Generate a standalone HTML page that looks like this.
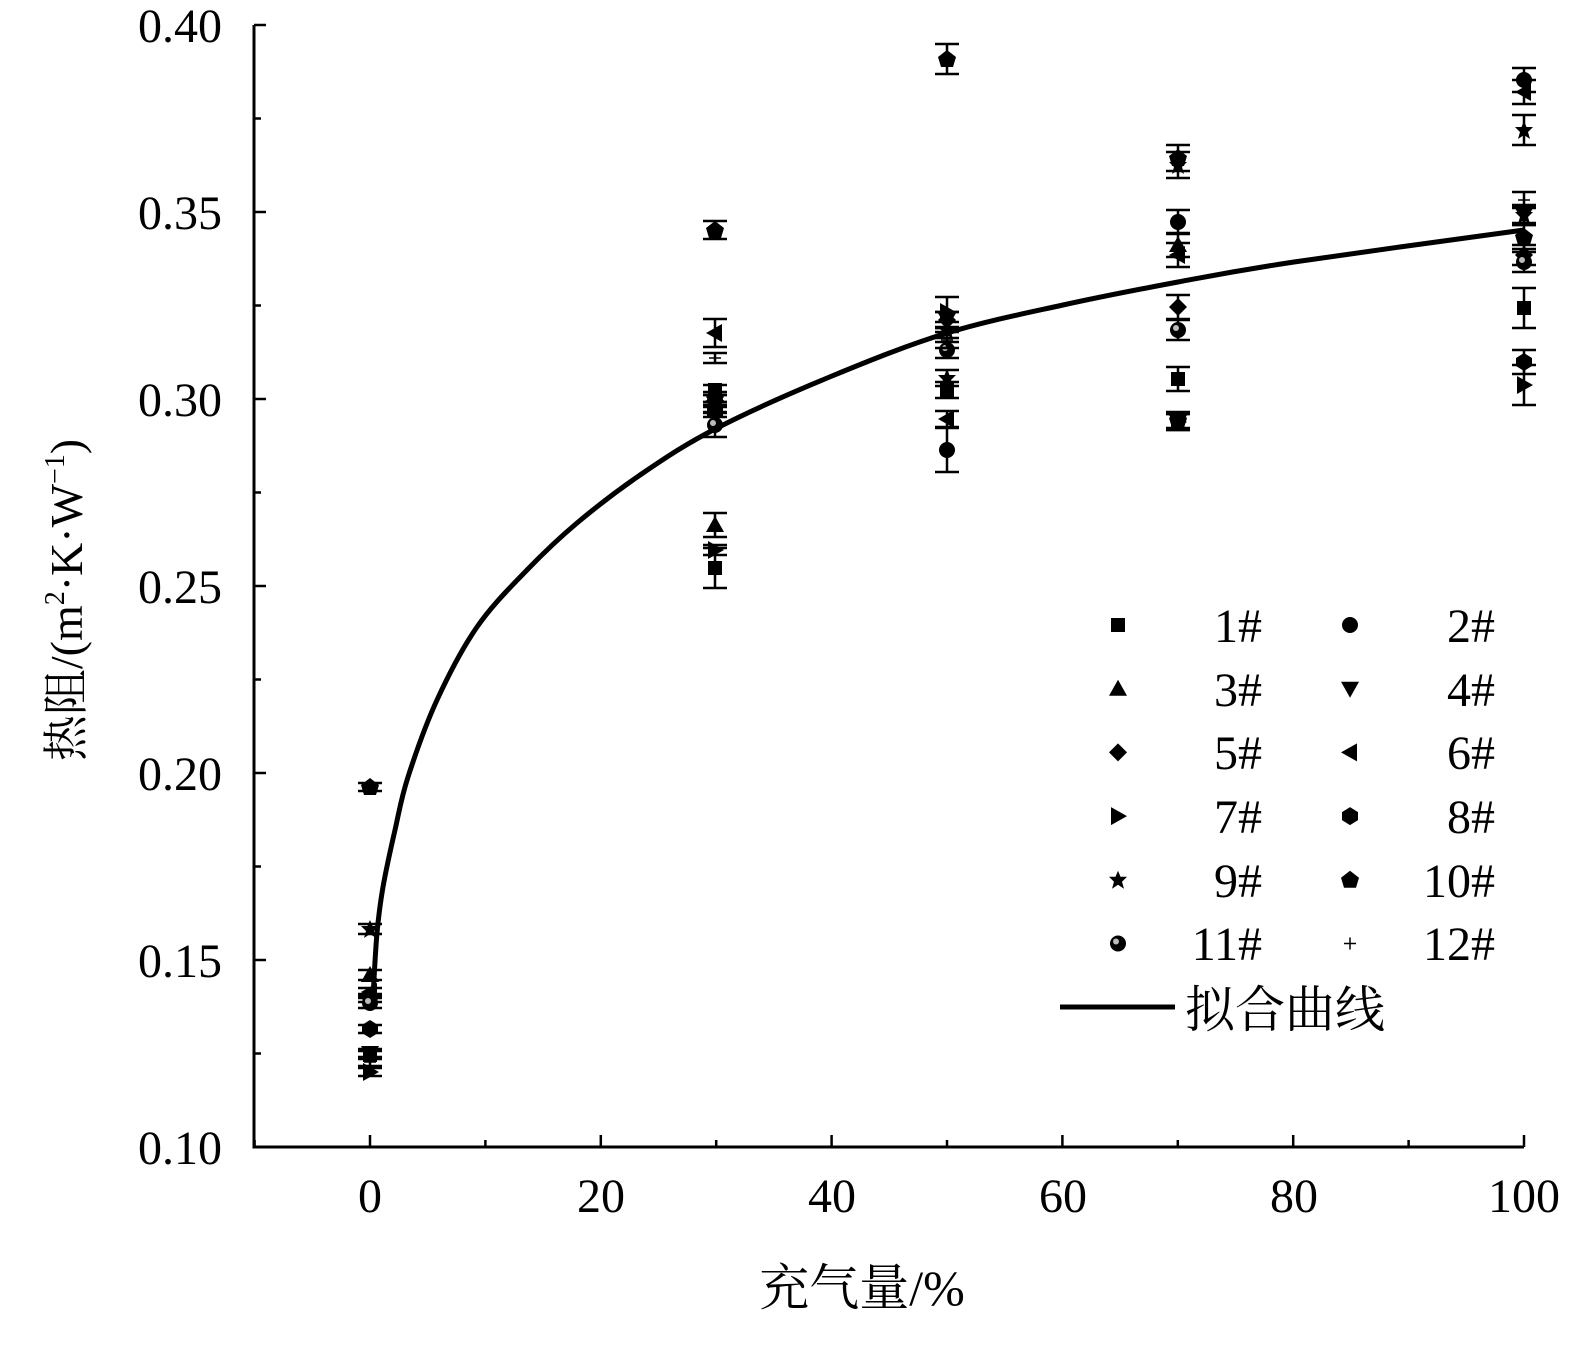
<!DOCTYPE html>
<html><head><meta charset="utf-8"><style>
html,body{margin:0;padding:0;background:#fff}
svg text{font-family:"Liberation Serif","Noto Serif CJK SC",serif;fill:#000}
</style></head><body>
<svg id="s" width="1589" height="1342" viewBox="0 0 1589 1342" xmlns="http://www.w3.org/2000/svg">
<g stroke="#000" stroke-width="3" fill="none">
<path d="M254,25 V1147 H1524"/>
</g>
<g id="ticks" stroke="#000" stroke-width="2.5"></g>
<g font-size="48" text-anchor="end">
<text x="222" y="42">0.40</text><text x="222" y="229">0.35</text><text x="222" y="416">0.30</text>
<text x="222" y="603">0.25</text><text x="222" y="790">0.20</text><text x="222" y="977">0.15</text><text x="222" y="1164">0.10</text>
</g>
<g font-size="48" text-anchor="middle">
<text x="370" y="1212">0</text><text x="601" y="1212">20</text><text x="832" y="1212">40</text>
<text x="1063" y="1212">60</text><text x="1294" y="1212">80</text><text x="1524" y="1212">100</text>
<text x="862" y="1305" font-size="50">充气量/%</text>
</g>
<text transform="translate(82,600) rotate(-90)" font-size="46" text-anchor="middle">热阻/(m<tspan font-size="28" dy="-18">2</tspan><tspan dy="18">·K·W</tspan><tspan font-size="28" dy="-18">−1</tspan><tspan dy="18">)</tspan></text>
<path id="curve" stroke="#000" stroke-width="5" fill="none" stroke-linejoin="round"/>
<g id="pts"></g>
<g font-size="48" text-anchor="end">
<text x="1262" y="642">1#</text><text x="1495" y="642">2#</text>
<text x="1262" y="706">3#</text><text x="1495" y="706">4#</text>
<text x="1262" y="769">5#</text><text x="1495" y="769">6#</text>
<text x="1262" y="833">7#</text><text x="1495" y="833">8#</text>
<text x="1262" y="897">9#</text><text x="1495" y="897">10#</text>
<text x="1262" y="960">11#</text><text x="1495" y="960">12#</text>
</g>
<line x1="1060" y1="1007" x2="1175" y2="1007" stroke="#000" stroke-width="5"/>
<text x="1185" y="1027" font-size="50">拟合曲线</text>
</svg>
<script>
const X=v=>370+v*11.54, Y=v=>1147-(v-0.1)*3740;
let t="";
for(let v=-10;v<=100;v+=10){let l=(v%20==0)?12:7;t+=`<line x1="${X(v)}" y1="1147" x2="${X(v)}" y2="${1147-l}"/>`;}
for(let i=0;i<=12;i++){let v=0.1+i*0.025;let l=i%2==0?12:7;t+=`<line x1="254" y1="${Y(v)}" x2="${254+l}" y2="${Y(v)}"/>`;}
document.getElementById("ticks").innerHTML=t;
const P=[[373,997],[377,933],[383,887],[395,830],[408,777],[437,700],[477,627],[527,570],[577,523],[643,473],[717,428],[832,376],[947,333],[1063,305],[1178,282],[1294,262],[1524,230]];
let d="M"+P[0][0]+","+P[0][1];
for(let i=0;i<P.length-1;i++){const p0=P[Math.max(0,i-1)],p1=P[i],p2=P[i+1],p3=P[Math.min(P.length-1,i+2)];
const c1=[p1[0]+(p2[0]-p0[0])/6,p1[1]+(p2[1]-p0[1])/6],c2=[p2[0]-(p3[0]-p1[0])/6,p2[1]-(p3[1]-p1[1])/6];
d+=`C${c1[0].toFixed(1)},${c1[1].toFixed(1)} ${c2[0].toFixed(1)},${c2[1].toFixed(1)} ${p2[0]},${p2[1]}`;}
document.getElementById("curve").setAttribute("d",d);
function m(k,x,y){switch(k){
case 1:return `<rect x="${x-7}" y="${y-7}" width="14" height="14"/>`;
case 2:return `<circle cx="${x}" cy="${y}" r="8"/>`;
case 3:return `<path d="M${x},${y-9}L${x+9},${y+7}L${x-9},${y+7}Z"/>`;
case 4:return `<path d="M${x},${y+9}L${x+9},${y-7}L${x-9},${y-7}Z"/>`;
case 5:return `<path d="M${x},${y-9}L${x+9},${y}L${x},${y+9}L${x-9},${y}Z"/>`;
case 6:return `<path d="M${x-9},${y}L${x+7},${y-9}L${x+7},${y+9}Z"/>`;
case 7:return `<path d="M${x+9},${y}L${x-7},${y-9}L${x-7},${y+9}Z"/>`;
case 8:return `<path d="M${x},${y-9}L${x+8},${y-4}L${x+8},${y+4}L${x},${y+9}L${x-8},${y+4}L${x-8},${y-4}Z"/>`;
case 9:return `<path d="M${x},${y-9}L${x+2.5},${y-3}L${x+9},${y-3}L${x+4},${y+2}L${x+6},${y+9}L${x},${y+5}L${x-6},${y+9}L${x-4},${y+2}L${x-9},${y-3}L${x-2.5},${y-3}Z"/>`;
case 10:return `<path d="M${x},${y-9}L${x+9},${y-2}L${x+6},${y+8}L${x-6},${y+8}L${x-9},${y-2}Z"/>`;
case 11:return `<circle cx="${x}" cy="${y}" r="8"/><circle cx="${x-2}" cy="${y-2}" r="3" fill="#bbb"/>`;
case 12:return `<path d="M${x-6},${y}H${x+6}M${x},${y-6}V${y+6}" stroke="#000" stroke-width="1.5"/>`;}}
function eb(x,y,e){return `<path d="M${x},${y-e}V${y+e}M${x-12},${y-e}H${x+12}M${x-12},${y+e}H${x+12}" stroke="#000" stroke-width="2.5"/>`;}
const data={370:[[10,787,4],[9,929,5],[3,975,5],[6,992,4],[5,998,4],[11,1003,5],[8,1029,4],[4,1053,4],[1,1055,4],[7,1072,4],[12,1062,4]],
715:[[10,230,9],[6,333,14],[12,358,5],[1,390,5],[5,397,5],[2,400,5],[4,407,5],[8,412,5],[11,425,12],[3,525,12],[7,550,5],[1,568,20]],
947:[[10,59,15],[7,312,15],[5,320,8],[9,330,8],[4,320,8],[11,350,8],[9,378,8],[1,390,8],[6,419,8],[2,450,22],[12,340,8]],
1178:[[10,158,13],[9,165,13],[2,222,12],[3,245,12],[6,255,12],[5,307,12],[11,330,10],[1,379,12],[4,422,8],[10,420,8],[7,422,8]],
1524:[[2,80,12],[6,92,12],[9,130,15],[4,215,10],[9,215,8],[10,237,12],[5,255,10],[11,262,10],[1,308,20],[8,362,12],[7,385,20],[12,200,8]]};
let p="";for(const x in data){for(const [k,y,e] of data[x]){p+=eb(+x,y,e)+m(k,+x,y);}}
const lg=[[1,2],[3,4],[5,6],[7,8],[9,10],[11,12]];
lg.forEach((r,i)=>{const y=625+i*63.7;p+=m(r[0],1118,y)+m(r[1],1350,y);});
document.getElementById("pts").innerHTML=p;
</script>
</body></html>
